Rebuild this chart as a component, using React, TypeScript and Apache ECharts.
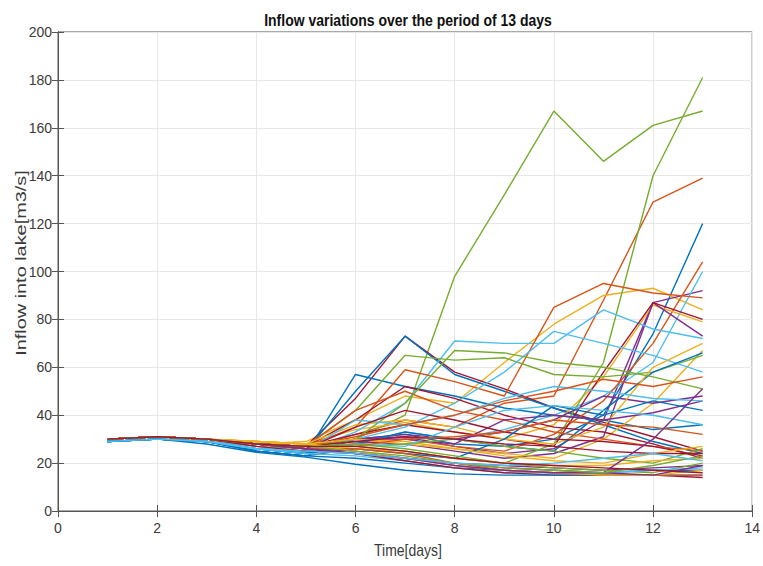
import React, { useEffect, useRef } from "react";
import * as echarts from "echarts";

const days = [1, 2, 3, 4, 5, 6, 7, 8, 9, 10, 11, 12, 13];
const xTicks = [0, 2, 4, 6, 8, 10, 12, 14];
const yTicks = [0, 20, 40, 60, 80, 100, 120, 140, 160, 180, 200];
const palette = ["#0072BD", "#D95319", "#EDB120", "#7E2F8E", "#77AC30", "#4DBEEE", "#A2142F"];
const titleText = "Inflow variations over the period of 13 days";
const xName = "Time[days]";
const yName = "Inflow into lake[m3/s]";

const s00 = [29, 30, 29, 25, 23, 30, 32, 28, 27, 30, 40, 74, 120];
const s01 = [30, 31, 30, 28, 26, 32, 38, 35, 45, 48, 88, 129, 139];
const s02 = [30, 31, 29, 28, 29, 38, 48, 45, 62, 78, 90, 93, 84];
const s03 = [30, 31, 30, 28, 27, 30, 31, 27, 24, 26, 38, 87, 92];
const s04 = [30, 31, 30, 28, 27, 30, 40, 98, 132, 167, 146, 161, 167];
const s05 = [29, 30, 29, 26, 24, 28, 33, 30, 34, 40, 48, 62, 100];
const s06 = [30, 31, 30, 28, 27, 47, 73, 58, 51, 43, 37, 31, 25];
const s07 = [29, 30, 29, 26, 25, 50, 73, 57, 50, 43, 36, 29, 24];
const s08 = [30, 31, 30, 28, 27, 28, 30, 27, 25, 32, 46, 70, 104];
const s09 = [30, 31, 30, 29, 28, 34, 37, 33, 30, 36, 56, 86, 79];
const s10 = [30, 31, 30, 28, 27, 29, 28, 25, 22, 24, 31, 87, 73];
const s11 = [30, 31, 30, 27, 26, 27, 25, 22, 20, 28, 62, 140, 181];
const s12 = [29, 30, 29, 27, 25, 33, 45, 71, 70, 70, 84, 76, 72];
const s13 = [30, 31, 30, 28, 27, 32, 36, 33, 30, 27, 58, 87, 80];
const s14 = [29, 30, 29, 26, 24, 57, 52, 48, 43, 40, 38, 34, 36];
const s15 = [30, 31, 30, 28, 27, 35, 59, 54, 48, 85, 95, 91, 89];
const s16 = [30, 31, 30, 29, 28, 30, 28, 26, 24, 22, 30, 45, 67];
const s17 = [30, 31, 30, 28, 27, 30, 32, 30, 33, 38, 48, 45, 48];
const s18 = [30, 31, 30, 28, 27, 42, 65, 63, 64, 57, 56, 58, 65];
const s19 = [29, 30, 29, 26, 25, 30, 35, 45, 58, 75, 70, 65, 58];
const s20 = [30, 31, 30, 28, 27, 38, 52, 47, 40, 35, 33, 28, 22];
const s21 = [29, 30, 29, 26, 24, 28, 33, 30, 27, 25, 42, 58, 66];
const s22 = [30, 31, 30, 28, 27, 42, 50, 42, 38, 33, 30, 27, 25];
const s23 = [30, 31, 30, 29, 28, 36, 38, 35, 30, 28, 35, 60, 70];
const s24 = [30, 31, 30, 28, 27, 30, 30, 28, 38, 40, 38, 41, 46];
const s25 = [30, 31, 30, 28, 27, 30, 45, 67, 66, 62, 60, 56, 51];
const s26 = [29, 30, 29, 26, 25, 38, 36, 40, 47, 52, 50, 47, 46];
const s27 = [30, 31, 30, 28, 26, 35, 42, 38, 33, 30, 29, 27, 23];
const s28 = [29, 30, 29, 25, 23, 26, 24, 22, 30, 44, 40, 46, 42];
const s29 = [30, 31, 30, 28, 27, 31, 36, 40, 46, 50, 55, 52, 56];
const s30 = [30, 31, 30, 29, 28, 30, 29, 26, 23, 21, 20, 24, 27];
const s31 = [30, 31, 30, 28, 26, 25, 22, 20, 19, 18, 17, 18, 19];
const s32 = [30, 31, 30, 28, 27, 27, 28, 30, 27, 25, 22, 20, 26];
const s33 = [29, 30, 29, 26, 25, 28, 27, 35, 42, 44, 42, 40, 36];
const s34 = [30, 31, 30, 28, 27, 29, 31, 30, 28, 27, 25, 24, 24];
const s35 = [29, 30, 29, 25, 23, 22, 20, 18, 17, 16, 16, 17, 17];
const s36 = [30, 31, 30, 28, 27, 27, 30, 31, 33, 38, 36, 35, 32];
const s37 = [30, 31, 30, 29, 28, 26, 25, 22, 20, 19, 19, 21, 22];
const s38 = [30, 31, 30, 28, 26, 24, 22, 20, 18, 17, 16, 30, 51];
const s39 = [30, 31, 30, 28, 27, 28, 26, 23, 20, 18, 17, 16, 20];
const s40 = [29, 30, 29, 26, 24, 23, 21, 18, 16, 16, 16, 17, 18];
const s41 = [30, 31, 30, 27, 25, 24, 21, 18, 16, 15, 15, 15, 14];
const s42 = [29, 30, 28, 24.5, 22.5, 19.5, 17, 15.5, 15, 15, 15, 15, 15];
const s43 = [30, 31, 30, 28, 26, 26, 24, 20, 17, 16, 15, 15, 15];
const s44 = [30, 31, 30, 29, 28, 25, 22, 19, 17, 16, 15, 15, 17];
const s45 = [30, 31, 30, 28, 26, 24, 22, 19, 17, 16, 16, 15, 19];
const s46 = [30, 31, 30, 28, 27, 25, 23, 20, 18, 17, 16, 19, 23];
const s47 = [29, 30, 29, 26, 25, 24, 22, 20, 19, 20, 22, 24, 21];
const s48 = [30, 31, 30, 28, 27, 27, 25, 22, 20, 19, 18, 17, 16];

const allSeries = [
  s00, s01, s02, s03, s04, s05, s06, s07, s08, s09, s10, s11, s12, s13, s14, s15, s16,
  s17, s18, s19, s20, s21, s22, s23, s24, s25, s26, s27, s28, s29, s30, s31, s32, s33,
  s34, s35, s36, s37, s38, s39, s40, s41, s42, s43, s44, s45, s46, s47, s48,
];

export default function App() {
  const ref = useRef<HTMLDivElement>(null);
  useEffect(() => {
    if (!ref.current) return;
    const chart = echarts.init(ref.current, null, { renderer: "svg" });
    const font = "'Liberation Sans', Arial, sans-serif";
    const axisCol = "#555555";
    const labelCol = "#3a3a3a";
    const baseX = { type: "value" as const, min: 0, max: 14, interval: 2 };
    const baseY = { type: "value" as const, min: 0, max: 200, interval: 20 };
    const tick = { show: true, inside: true, length: 6, lineStyle: { color: axisCol } };
    chart.setOption({
      animation: false,
      backgroundColor: "#ffffff",
      color: palette,
      graphic: [
        {
          type: "text",
          x: 408,
          y: 20,
          scaleY: 1.2,
          silent: true,
          style: {
            text: titleText,
            fontFamily: font,
            fontSize: 14,
            fontWeight: "bold",
            fill: "#111111",
            align: "center",
            verticalAlign: "middle",
          },
        },
        {
          type: "text",
          x: 408,
          y: 550,
          scaleY: 1.2,
          silent: true,
          style: {
            text: xName,
            fontFamily: font,
            fontSize: 14,
            fill: labelCol,
            align: "center",
            verticalAlign: "middle",
          },
        },
        {
          type: "text",
          x: 21,
          y: 263,
          rotation: Math.PI / 2,
          scaleX: 1.42,
          silent: true,
          style: {
            text: yName,
            fontFamily: font,
            fontSize: 14,
            fill: labelCol,
            align: "center",
            verticalAlign: "middle",
          },
        },
      ],
      grid: {
        left: 58,
        right: 5,
        top: 32,
        bottom: 55,
        show: true,
        borderColor: axisCol,
        borderWidth: 1,
      },
      xAxis: [
        {
          ...baseX,
          position: "bottom",
          axisLine: { show: true, lineStyle: { color: axisCol } },
          axisTick: tick,
          axisLabel: {
            fontFamily: font,
            fontSize: 14,
            color: labelCol,
            margin: 10,
            formatter: (v: number) => (xTicks.includes(v) ? String(v) : ""),
          },
          splitLine: { show: true, lineStyle: { color: "#e8e8e8", width: 1 } },
        },
        {
          ...baseX,
          position: "top",
          axisLine: { show: true, lineStyle: { color: axisCol } },
          axisTick: tick,
          axisLabel: { show: false },
          splitLine: { show: false },
        },
      ],
      yAxis: [
        {
          ...baseY,
          position: "left",
          axisLine: { show: true, lineStyle: { color: axisCol } },
          axisTick: tick,
          axisLabel: {
            fontFamily: font,
            fontSize: 14,
            color: labelCol,
            margin: 6,
            formatter: (v: number) => (yTicks.includes(v) ? String(v) : ""),
          },
          splitLine: { show: true, lineStyle: { color: "#e8e8e8", width: 1 } },
        },
        {
          ...baseY,
          position: "right",
          axisLine: { show: true, lineStyle: { color: axisCol } },
          axisTick: tick,
          axisLabel: { show: false },
          splitLine: { show: false },
        },
      ],
      series: allSeries.map((vals, i) => ({
        type: "line",
        xAxisIndex: 0,
        yAxisIndex: 0,
        showSymbol: false,
        symbol: "none",
        data: days.map((d, j) => [d, vals[j]]),
        lineStyle: { width: 1.4, color: palette[i % palette.length] },
        emphasis: { disabled: true },
      })),
    });
    return () => chart.dispose();
  }, []);
  return (
    <div
      ref={ref}
      style={{ position: "fixed", left: 0, top: 0, width: 763, height: 566, background: "#fff" }}
    />
  );
}
